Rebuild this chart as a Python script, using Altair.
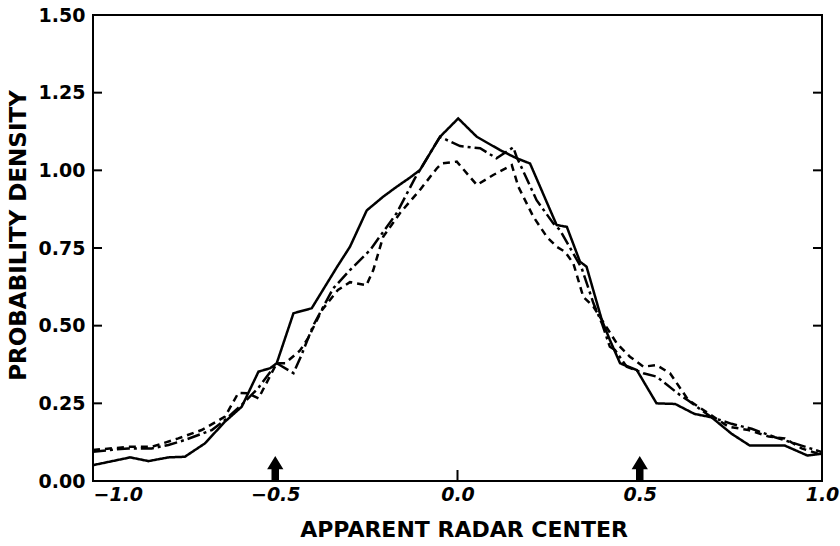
import altair as alt
import pandas as pd

# ---- data ----
solid_x = [-1.0, -0.898, -0.848, -0.793, -0.748, -0.693, -0.638, -0.592, -0.546, -0.514, -0.496,
           -0.45, -0.40, -0.33, -0.295, -0.249, -0.204, -0.167, -0.13, -0.103, -0.048, 0.002,
           0.053, 0.117, 0.162, 0.199, 0.272, 0.30, 0.336, 0.354, 0.396, 0.418, 0.446, 0.492,
           0.546, 0.597, 0.65, 0.697, 0.752, 0.802, 0.898, 0.96, 1.0]
solid_y = [0.051, 0.076, 0.064, 0.076, 0.078, 0.121, 0.191, 0.239, 0.352, 0.363, 0.379,
           0.54, 0.556, 0.69, 0.754, 0.871, 0.915, 0.947, 0.977, 1.001, 1.108, 1.167,
           1.108, 1.065, 1.039, 1.022, 0.824, 0.818, 0.706, 0.69, 0.518, 0.454, 0.379, 0.357,
           0.25, 0.248, 0.216, 0.205, 0.152, 0.114, 0.114, 0.082, 0.088]

dashdot_x = [-1.0, -0.953, -0.903, -0.839, -0.793, -0.748, -0.674, -0.638, -0.592, -0.546, -0.496,
             -0.45, -0.43, -0.396, -0.341, -0.295, -0.24, -0.167, -0.117, -0.048, -0.03, 0.007,
             0.062, 0.107, 0.153, 0.162, 0.217, 0.263, 0.281, 0.341, 0.373, 0.396, 0.418, 0.432,
             0.464, 0.51, 0.546, 0.61, 0.633, 0.697, 0.752, 0.807, 0.871, 0.944, 1.0]
dashdot_y = [0.094, 0.10, 0.105, 0.105, 0.116, 0.132, 0.164, 0.196, 0.245, 0.30, 0.379,
             0.347, 0.40, 0.50, 0.62, 0.679, 0.743, 0.862, 0.974, 1.108, 1.098, 1.078,
             1.071, 1.039, 1.074, 1.044, 0.904, 0.829, 0.808, 0.684, 0.572, 0.508, 0.432, 0.422,
             0.368, 0.347, 0.336, 0.277, 0.259, 0.205, 0.184, 0.168, 0.141, 0.114, 0.093]

dashed_x = [-1.0, -0.90, -0.839, -0.766, -0.702, -0.638, -0.601, -0.574, -0.546, -0.496, -0.473,
            -0.432, -0.41, -0.372, -0.328, -0.295, -0.25, -0.231, -0.204, -0.158, -0.103, -0.057,
            -0.043, -0.002, 0.053, 0.098, 0.149, 0.167, 0.208, 0.245, 0.272, 0.295, 0.318, 0.345,
            0.373, 0.437, 0.473, 0.51, 0.546, 0.583, 0.633, 0.688, 0.743, 0.798, 0.854, 0.898,
            0.944, 1.0]
dashed_y = [0.10, 0.11, 0.11, 0.137, 0.164, 0.207, 0.284, 0.282, 0.266, 0.379, 0.379,
            0.42, 0.46, 0.55, 0.615, 0.64, 0.63, 0.679, 0.786, 0.862, 0.937, 1.006,
            1.022, 1.028, 0.953, 0.985, 1.017, 0.947, 0.851, 0.786, 0.754, 0.738, 0.70, 0.593,
            0.561, 0.443, 0.40, 0.368, 0.373, 0.347, 0.261, 0.218, 0.175, 0.164, 0.143, 0.137,
            0.105, 0.084]

arrow_x = [-0.5, 0.5]
x_ticks = [-1.0, -0.5, 0.0, 0.5, 1.0]
y_ticks = [0.0, 0.25, 0.5, 0.75, 1.0, 1.25, 1.5]
y_inner_ticks = [0.25, 0.5, 0.75, 1.0, 1.25]
x_inner_ticks = [0.0]

W, H = 729, 466
FONT = "DejaVu Sans"


def frame(xs, ys):
    return pd.DataFrame({"x": xs, "p": ys, "i": list(range(len(xs)))})


xscale = alt.Scale(domain=[-1, 1], nice=False, zero=False)
yscale = alt.Scale(domain=[0, 1.5], nice=False, zero=False)

xaxis = alt.Axis(values=x_ticks, format=".1f", title="APPARENT RADAR CENTER",
                 labelFontStyle="italic", labelPadding=4, labelFlush=False,
                 labelAlign={"condition": {"test": "datum.value <= -1", "value": "left"},
                             "value": "center"},
                 titleFontSize=22,
                 titleX=W / 2 + 6, titleY=48, titleBaseline="middle", titleAlign="center",
                 ticks=False, domain=False, grid=False)
yaxis = alt.Axis(values=y_ticks, format=".2f", title="PROBABILITY  DENSITY",
                 labelPadding=8, titleX=-75, titleY=220, titleAngle=-90,
                 titleFontSize=23,
                 titleBaseline="middle", titleAlign="center",
                 ticks=False, domain=False, grid=False)


def X(field):
    return alt.X(field, type="quantitative", scale=xscale, axis=xaxis)


def Y(field):
    return alt.Y(field, type="quantitative", scale=yscale, axis=yaxis)


def line(df, dash):
    return alt.Chart(df).mark_line(color="black", strokeWidth=2.5, strokeDash=dash,
                                   interpolate="linear").encode(
        x=X("x"), y=Y("p"), order="i:Q")


solid = line(frame(solid_x, solid_y), [1, 0])
dashdot = line(frame(dashdot_x, dashdot_y), [13, 4, 3, 4])
dashed = line(frame(dashed_x, dashed_y), [7, 5])

arrow_path = "M-0.3,1 L0.3,1 L0.3,0.05 L0.65,0.05 L0,-1 L-0.65,0.05 L-0.3,0.05 Z"
arrows = alt.Chart(pd.DataFrame({"x": arrow_x, "p": [0, 0]})).mark_point(
    shape=arrow_path, filled=True, color="black", opacity=1, size=625, yOffset=-12.5,
    strokeWidth=0).encode(x=X("x"), y=Y("p"))

ydf = pd.DataFrame({"v": y_inner_ticks})
left_ticks = alt.Chart(ydf).mark_rule(color="black", strokeWidth=2).encode(
    y=Y("v"), x=alt.value(0), x2=alt.value(9))
right_ticks = alt.Chart(ydf).mark_rule(color="black", strokeWidth=2).encode(
    y=Y("v"), x=alt.value(W - 9), x2=alt.value(W))
bottom_ticks = alt.Chart(pd.DataFrame({"v": x_inner_ticks})).mark_rule(
    color="black", strokeWidth=2).encode(
    x=X("v"), y=alt.value(H - 11), y2=alt.value(H))

chart = alt.layer(solid, dashdot, dashed, arrows, left_ticks, right_ticks, bottom_ticks).properties(
    width=W, height=H, autosize="none",
    padding={"left": 93, "top": 15, "right": 840 - 93 - W, "bottom": 546 - 15 - H},
    background="white",
).configure_view(stroke="black", strokeWidth=2).configure_axis(
    labelFont=FONT, labelFontWeight="bold", labelFontSize=19, labelColor="black",
    titleFont=FONT, titleFontWeight="bold", titleColor="black",
)

chart.save("out.html", embed_options={"renderer": "svg", "actions": False})
